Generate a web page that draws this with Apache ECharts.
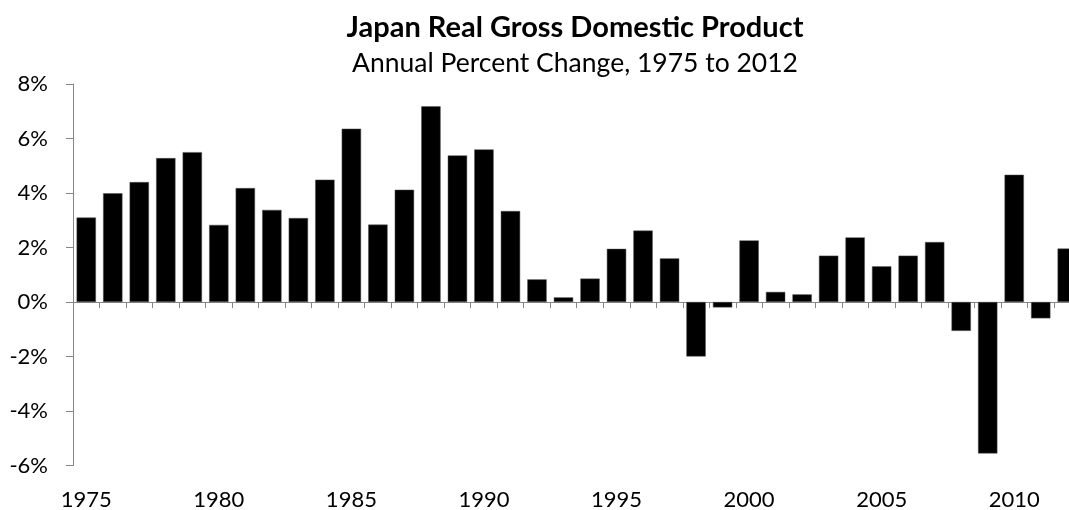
<!DOCTYPE html>
<html>
<head>
<meta charset="utf-8">
<script src="https://cdn.jsdelivr.net/npm/echarts@6/dist/echarts.min.js"></script>
<style>
html,body{margin:0;padding:0;background:#fff;}
#chart{width:1069px;height:510px;}
</style>
</head>
<body>
<div id="chart"></div>
<script>
var years = ['1975','1976','1977','1978','1979','1980','1981','1982','1983','1984',
  '1985','1986','1987','1988','1989','1990','1991','1992','1993','1994',
  '1995','1996','1997','1998','1999','2000','2001','2002','2003','2004',
  '2005','2006','2007','2008','2009','2010','2011','2012'];
var gdpChange = [3.10, 3.99, 4.40, 5.28, 5.50, 2.83, 4.18, 3.38, 3.08, 4.49,
  6.36, 2.84, 4.12, 7.18, 5.38, 5.60, 3.34, 0.83, 0.17, 0.86,
  1.95, 2.62, 1.60, -2.00, -0.20, 2.26, 0.37, 0.28, 1.70, 2.37,
  1.31, 1.70, 2.20, -1.06, -5.56, 4.67, -0.60, 1.96];
var titleText = 'Japan Real Gross Domestic Product';
var subtitleText = 'Annual Percent Change, 1975 to 2012';

var font = 'Lato, Carlito, Calibri, sans-serif';
var axisGray = '#868686';
var chart = echarts.init(document.getElementById('chart'));
chart.setOption({
  animation: false,
  backgroundColor: '#ffffff',
  title: [
    {text: titleText, left: 570, top: 8, textAlign: 'center',
     textStyle: {fontFamily: font, fontSize: 29, fontWeight: 'bold', color: '#000'}},
    {text: subtitleText, left: 570, top: 45, textAlign: 'center',
     textStyle: {fontFamily: font, fontSize: 26.5, fontWeight: 'normal', color: '#000'}}
  ],
  grid: {left: 73, top: 84, width: 1007.5, height: 381.5, containLabel: false, outerBoundsMode: 'none'},
  xAxis: [
    {type: 'category', data: years, boundaryGap: true,
     axisLine: {show: true, onZero: true, lineStyle: {color: axisGray, width: 1}},
     axisTick: {show: true, interval: 0, length: 6, inside: false, lineStyle: {color: axisGray}},
     axisLabel: {show: false}, splitLine: {show: false}},
    {type: 'category', data: years, boundaryGap: true, position: 'bottom',
     axisLine: {show: false, onZero: false}, axisTick: {show: false},
     axisLabel: {show: true, interval: 4, margin: 23, fontFamily: font, fontSize: 22, color: '#000'},
     splitLine: {show: false}}
  ],
  yAxis: {
    type: 'value', min: -6, max: 8, interval: 2,
    axisLine: {show: true, lineStyle: {color: axisGray, width: 1}},
    axisTick: {show: true, length: 7, inside: false, lineStyle: {color: axisGray}},
    axisLabel: {formatter: '{value}%', margin: 25, fontFamily: font, fontSize: 22, color: '#000'},
    splitLine: {show: false}
  },
  series: [{
    type: 'bar', xAxisIndex: 0, data: gdpChange,
    barCategoryGap: '27%',
    itemStyle: {color: '#000', borderColor: '#555', borderWidth: 0.5}
  }]
});
</script>
</body>
</html>
